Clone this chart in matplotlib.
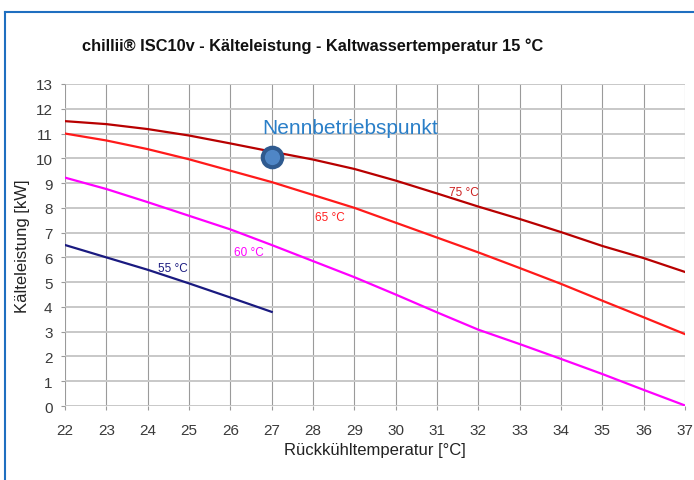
import matplotlib.pyplot as plt
from matplotlib.lines import Line2D
import numpy as np

# Rückkühltemperatur [°C]
temp = [22, 23, 24, 25, 26, 27, 28, 29, 30, 31, 32, 33, 34, 35, 36, 37]
# Kälteleistung [kW] per Antriebstemperatur
kw_75 = [11.5, 11.38, 11.18, 10.92, 10.6, 10.27, 9.95, 9.57, 9.1, 8.58,
         8.05, 7.55, 7.02, 6.46, 5.97, 5.41]
kw_65 = [11.0, 10.72, 10.37, 9.96, 9.5, 9.04, 8.52, 8.0, 7.4, 6.8,
         6.2, 5.57, 4.93, 4.25, 3.58, 2.9]
kw_60 = [9.22, 8.76, 8.23, 7.68, 7.13, 6.5, 5.85, 5.2, 4.5, 3.78,
         3.08, 2.5, 1.9, 1.29, 0.65, 0.02]
temp_55 = [22, 23, 24, 25, 26, 27]
kw_55 = [6.5, 6.0, 5.5, 4.95, 4.38, 3.8]

nenn_x, nenn_y = 27, 10.05

plt.rcParams['font.family'] = ['Liberation Sans', 'DejaVu Sans']

fig = plt.figure(figsize=(6.94, 4.81), dpi=100)
ax = fig.add_axes([0.0937, 0.1538, 0.8935, 0.6695])

# grid: vertical darker, horizontal lighter
for x in range(22, 38):
    ax.axvline(x, color='#9a9a9a', lw=0.8, zorder=0)
for y in range(0, 14):
    ax.axhline(y, color='#c8c8c8', lw=1.4, zorder=0)

ax.plot(temp, kw_75, color='#b80000', lw=1.6, zorder=2)
ax.plot(temp, kw_65, color='#ff1a1a', lw=1.6, zorder=2)
ax.plot(temp, kw_60, color='#ff00ff', lw=1.6, zorder=2)
ax.plot(temp_55, kw_55, color='#1a1a80', lw=1.6, zorder=2)

ax.text(31.65, 8.64, '75 °C', color='#cc2020', fontsize=8.5, ha='center', va='center')
ax.text(28.4, 7.63, '65 °C', color='#ff2020', fontsize=8.5, ha='center', va='center')
ax.text(26.45, 6.2, '60 °C', color='#ff00ff', fontsize=8.5, ha='center', va='center')
ax.text(24.6, 5.57, '55 °C', color='#1a1a80', fontsize=8.5, ha='center', va='center')

ax.plot([nenn_x], [nenn_y], 'o', ms=14, mfc='#4f86c6', mec='#2f5a8f', mew=3, zorder=3)
ax.text(28.9, 11.26, 'Nennbetriebspunkt', color='#2a7fc8', fontsize=15,
        ha='center', va='center')

ax.set_xlim(22, 37)
ax.set_ylim(0, 13)
ax.set_xticks(range(22, 38))
ax.set_yticks(range(0, 14))
for s in ax.spines.values():
    s.set_visible(False)
ax.tick_params(axis='both', length=3, color='#9a9a9a', labelsize=11,
               labelcolor='#3a3a3a', pad=6)
ax.tick_params(axis='x', pad=9)

ax.set_xlabel('Rückkühltemperatur [°C]', fontsize=12, color='#222222', labelpad=4)
ax.set_ylabel('Kälteleistung [kW]', fontsize=12, color='#222222', labelpad=4)

fig.text(82 / 694, 1 - 46 / 481, 'chillii® ISC10v - Kälteleistung - Kaltwassertemperatur 15 °C',
         fontsize=11.8, fontweight='bold', ha='left', va='center', color='#111111')

# blue frame
fig.add_artist(Line2D([5 / 694, 5 / 694], [0, 1 - 13 / 481], color='#1f6fc0', lw=1.5,
                      transform=fig.transFigure))
fig.add_artist(Line2D([5 / 694, 1], [1 - 13 / 481, 1 - 13 / 481], color='#1f6fc0', lw=1.5,
                      transform=fig.transFigure))

plt.savefig('out.png', dpi=100)
